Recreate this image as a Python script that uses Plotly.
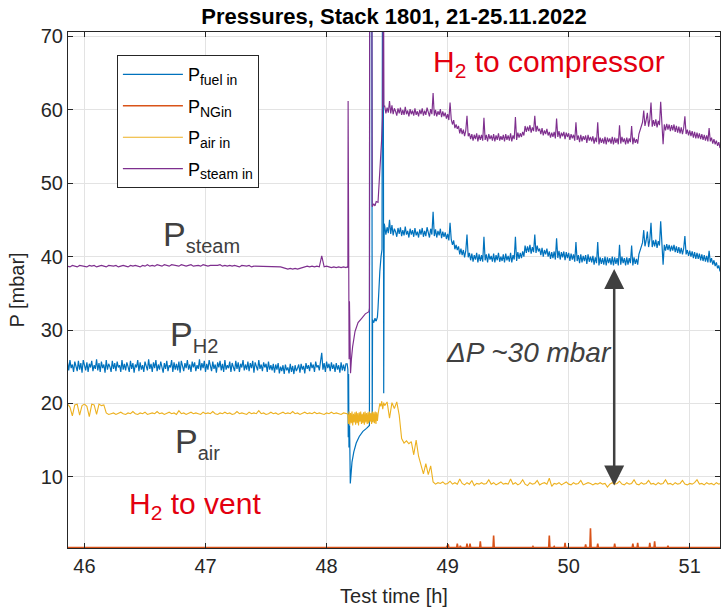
import plotly.graph_objects as go

# ---------------- time grids (h) ----------------
# coarse grid (0.02 h) for the smooth traces
time_pre = [
    45.86, 45.88, 45.90, 45.92, 45.94, 45.96, 45.98, 46.00, 46.02, 46.04,
    46.06, 46.08, 46.10, 46.12, 46.14, 46.16, 46.18, 46.20, 46.22, 46.24,
    46.26, 46.28, 46.30, 46.32, 46.34, 46.36, 46.38, 46.40, 46.42, 46.44,
    46.46, 46.48, 46.50, 46.52, 46.54, 46.56, 46.58, 46.60, 46.62, 46.64,
    46.66, 46.68, 46.70, 46.72, 46.74, 46.76, 46.78, 46.80, 46.82, 46.84,
    46.86, 46.88, 46.90, 46.92, 46.94, 46.96, 46.98, 47.00, 47.02, 47.04,
    47.06, 47.08, 47.10, 47.12, 47.14, 47.16, 47.18, 47.20, 47.22, 47.24,
    47.26, 47.28, 47.30, 47.32, 47.34, 47.36, 47.38, 47.40, 47.42, 47.44,
    47.46, 47.48, 47.50, 47.52, 47.54, 47.56, 47.58, 47.60, 47.62, 47.64,
    47.66, 47.68, 47.70, 47.72, 47.74, 47.76, 47.78, 47.80, 47.82, 47.84,
    47.86, 47.88, 47.90, 47.92, 47.94, 47.96, 47.98, 48.00, 48.02, 48.04,
    48.06, 48.08, 48.10, 48.12, 48.14, 48.16,
]
time_post = [
    48.48, 48.50, 48.52, 48.54, 48.56, 48.58, 48.60, 48.62, 48.64, 48.66,
    48.68, 48.70, 48.72, 48.74, 48.76, 48.78, 48.80, 48.82, 48.84, 48.86,
    48.88, 48.90, 48.92, 48.94, 48.96, 48.98, 49.00, 49.02, 49.04, 49.06,
    49.08, 49.10, 49.12, 49.14, 49.16, 49.18, 49.20, 49.22, 49.24, 49.26,
    49.28, 49.30, 49.32, 49.34, 49.36, 49.38, 49.40, 49.42, 49.44, 49.46,
    49.48, 49.50, 49.52, 49.54, 49.56, 49.58, 49.60, 49.62, 49.64, 49.66,
    49.68, 49.70, 49.72, 49.74, 49.76, 49.78, 49.80, 49.82, 49.84, 49.86,
    49.88, 49.90, 49.92, 49.94, 49.96, 49.98, 50.00, 50.02, 50.04, 50.06,
    50.08, 50.10, 50.12, 50.14, 50.16, 50.18, 50.20, 50.22, 50.24, 50.26,
    50.28, 50.30, 50.32, 50.34, 50.36, 50.38, 50.40, 50.42, 50.44, 50.46,
    50.48, 50.50, 50.52, 50.54, 50.56, 50.58, 50.60, 50.62, 50.64, 50.66,
    50.68, 50.70, 50.72, 50.74, 50.76, 50.78, 50.80, 50.82, 50.84, 50.86,
    50.88, 50.90, 50.92, 50.94, 50.96, 50.98, 51.00, 51.02, 51.04, 51.06,
    51.08, 51.10, 51.12, 51.14, 51.16, 51.18, 51.20, 51.22, 51.24, 51.26,
]
# fine grid (0.01 h) for the noisy traces
time_pre_fine = [
    45.86, 45.87, 45.88, 45.89, 45.90, 45.91, 45.92, 45.93, 45.94, 45.95,
    45.96, 45.97, 45.98, 45.99, 46.00, 46.01, 46.02, 46.03, 46.04, 46.05,
    46.06, 46.07, 46.08, 46.09, 46.10, 46.11, 46.12, 46.13, 46.14, 46.15,
    46.16, 46.17, 46.18, 46.19, 46.20, 46.21, 46.22, 46.23, 46.24, 46.25,
    46.26, 46.27, 46.28, 46.29, 46.30, 46.31, 46.32, 46.33, 46.34, 46.35,
    46.36, 46.37, 46.38, 46.39, 46.40, 46.41, 46.42, 46.43, 46.44, 46.45,
    46.46, 46.47, 46.48, 46.49, 46.50, 46.51, 46.52, 46.53, 46.54, 46.55,
    46.56, 46.57, 46.58, 46.59, 46.60, 46.61, 46.62, 46.63, 46.64, 46.65,
    46.66, 46.67, 46.68, 46.69, 46.70, 46.71, 46.72, 46.73, 46.74, 46.75,
    46.76, 46.77, 46.78, 46.79, 46.80, 46.81, 46.82, 46.83, 46.84, 46.85,
    46.86, 46.87, 46.88, 46.89, 46.90, 46.91, 46.92, 46.93, 46.94, 46.95,
    46.96, 46.97, 46.98, 46.99, 47.00, 47.01, 47.02, 47.03, 47.04, 47.05,
    47.06, 47.07, 47.08, 47.09, 47.10, 47.11, 47.12, 47.13, 47.14, 47.15,
    47.16, 47.17, 47.18, 47.19, 47.20, 47.21, 47.22, 47.23, 47.24, 47.25,
    47.26, 47.27, 47.28, 47.29, 47.30, 47.31, 47.32, 47.33, 47.34, 47.35,
    47.36, 47.37, 47.38, 47.39, 47.40, 47.41, 47.42, 47.43, 47.44, 47.45,
    47.46, 47.47, 47.48, 47.49, 47.50, 47.51, 47.52, 47.53, 47.54, 47.55,
    47.56, 47.57, 47.58, 47.59, 47.60, 47.61, 47.62, 47.63, 47.64, 47.65,
    47.66, 47.67, 47.68, 47.69, 47.70, 47.71, 47.72, 47.73, 47.74, 47.75,
    47.76, 47.77, 47.78, 47.79, 47.80, 47.81, 47.82, 47.83, 47.84, 47.85,
    47.86, 47.87, 47.88, 47.89, 47.90, 47.91, 47.92, 47.93, 47.94, 47.95,
    47.96, 47.97, 47.98, 47.99, 48.00, 48.01, 48.02, 48.03, 48.04, 48.05,
    48.06, 48.07, 48.08, 48.09, 48.10, 48.11, 48.12, 48.13, 48.14, 48.15,
    48.16,
]
time_post_fine = [
    48.48, 48.49, 48.50, 48.51, 48.52, 48.53, 48.54, 48.55, 48.56, 48.57,
    48.58, 48.59, 48.60, 48.61, 48.62, 48.63, 48.64, 48.65, 48.66, 48.67,
    48.68, 48.69, 48.70, 48.71, 48.72, 48.73, 48.74, 48.75, 48.76, 48.77,
    48.78, 48.79, 48.80, 48.81, 48.82, 48.83, 48.84, 48.85, 48.86, 48.87,
    48.88, 48.89, 48.90, 48.91, 48.92, 48.93, 48.94, 48.95, 48.96, 48.97,
    48.98, 48.99, 49.00, 49.01, 49.02, 49.03, 49.04, 49.05, 49.06, 49.07,
    49.08, 49.09, 49.10, 49.11, 49.12, 49.13, 49.14, 49.15, 49.16, 49.17,
    49.18, 49.19, 49.20, 49.21, 49.22, 49.23, 49.24, 49.25, 49.26, 49.27,
    49.28, 49.29, 49.30, 49.31, 49.32, 49.33, 49.34, 49.35, 49.36, 49.37,
    49.38, 49.39, 49.40, 49.41, 49.42, 49.43, 49.44, 49.45, 49.46, 49.47,
    49.48, 49.49, 49.50, 49.51, 49.52, 49.53, 49.54, 49.55, 49.56, 49.57,
    49.58, 49.59, 49.60, 49.61, 49.62, 49.63, 49.64, 49.65, 49.66, 49.67,
    49.68, 49.69, 49.70, 49.71, 49.72, 49.73, 49.74, 49.75, 49.76, 49.77,
    49.78, 49.79, 49.80, 49.81, 49.82, 49.83, 49.84, 49.85, 49.86, 49.87,
    49.88, 49.89, 49.90, 49.91, 49.92, 49.93, 49.94, 49.95, 49.96, 49.97,
    49.98, 49.99, 50.00, 50.01, 50.02, 50.03, 50.04, 50.05, 50.06, 50.07,
    50.08, 50.09, 50.10, 50.11, 50.12, 50.13, 50.14, 50.15, 50.16, 50.17,
    50.18, 50.19, 50.20, 50.21, 50.22, 50.23, 50.24, 50.25, 50.26, 50.27,
    50.28, 50.29, 50.30, 50.31, 50.32, 50.33, 50.34, 50.35, 50.36, 50.37,
    50.38, 50.39, 50.40, 50.41, 50.42, 50.43, 50.44, 50.45, 50.46, 50.47,
    50.48, 50.49, 50.50, 50.51, 50.52, 50.53, 50.54, 50.55, 50.56, 50.57,
    50.58, 50.59, 50.60, 50.61, 50.62, 50.63, 50.64, 50.65, 50.66, 50.67,
    50.68, 50.69, 50.70, 50.71, 50.72, 50.73, 50.74, 50.75, 50.76, 50.77,
    50.78, 50.79, 50.80, 50.81, 50.82, 50.83, 50.84, 50.85, 50.86, 50.87,
    50.88, 50.89, 50.90, 50.91, 50.92, 50.93, 50.94, 50.95, 50.96, 50.97,
    50.98, 50.99, 51.00, 51.01, 51.02, 51.03, 51.04, 51.05, 51.06, 51.07,
    51.08, 51.09, 51.10, 51.11, 51.12, 51.13, 51.14, 51.15, 51.16, 51.17,
    51.18, 51.19, 51.20, 51.21, 51.22, 51.23, 51.24, 51.25, 51.26,
]

# ---------------- P fuel in (mbar) ----------------
fuel_pre = [
    25.6, 24.5, 25.9, 24.8, 25.3, 24.3, 25.7, 25.0, 24.4, 25.8,
    24.6, 25.5, 24.2, 25.9, 25.1, 24.5, 25.6, 24.3, 25.4, 24.9,
    25.8, 24.4, 25.2, 24.7, 26.0, 24.5, 25.5, 24.3, 25.7, 24.8,
    25.3, 24.2, 25.9, 24.6, 25.4, 25.0, 24.3, 25.8, 24.7, 25.5,
    24.4, 25.7, 24.9, 25.2, 24.3, 25.9, 24.6, 25.4, 24.5, 25.6,
    25.0, 24.3, 25.8, 24.7, 25.5, 24.2, 25.3, 24.9, 25.9, 24.4,
    25.6, 24.6, 25.2, 24.3, 25.7, 25.0, 24.5, 26.0, 24.7, 25.4,
    24.3, 25.6, 24.8, 25.9, 24.4, 25.3, 24.6, 25.7, 25.1, 24.2,
    25.5, 24.7, 25.8, 24.4, 25.2, 24.9, 25.9, 24.3, 25.6, 24.6,
    25.4, 24.5, 25.7, 24.2, 25.8, 25.0, 24.4, 25.5, 24.8, 25.9,
    24.6, 25.3, 24.3, 25.7, 24.9, 25.6, 24.4, 25.2, 24.7, 26.0,
    24.5, 25.5, 24.8, 25.8, 24.3, 25.4, 24.6, 25.9, 25.0, 24.4,
    25.7, 24.7, 25.3, 24.2, 25.6, 24.9, 25.8, 24.5, 25.4, 24.3,
    25.9, 24.6, 25.2, 24.8, 25.7, 24.3, 25.5, 25.0, 24.4, 25.8,
    24.7, 25.6, 24.3, 25.4, 24.9, 25.9, 24.5, 25.3, 24.6, 25.7,
    24.4, 25.5, 24.8, 25.8, 24.2, 25.6, 25.0, 24.5, 25.9, 24.7,
    25.3, 24.4, 25.6, 24.9, 25.4, 24.3, 25.7, 24.6, 25.2, 24.5,
    25.4, 24.2, 25.3, 24.6, 25.5, 24.1, 25.0, 24.4, 25.2, 24.0,
    25.3, 24.5, 24.9, 24.1, 25.4, 24.3, 25.1, 24.0, 25.2, 24.4,
    24.8, 25.3, 24.2, 25.4, 24.6, 25.1, 24.1, 25.5, 24.7, 25.2,
    24.4, 25.6, 24.8, 25.3, 24.3, 25.7, 24.9, 25.2, 24.5, 25.8,
    26.9, 24.6, 25.5, 24.3, 25.7, 24.8, 25.4, 24.4, 25.6, 24.7,
    25.3, 24.3, 25.5, 24.6, 25.2, 24.2, 25.6, 24.5, 25.3, 24.4,
    25.4,
]
fuel_tr_time = [48.170, 48.176, 48.179, 48.182, 48.185, 48.190, 48.196, 48.200,
                48.210, 48.225, 48.245, 48.270, 48.300, 48.330, 48.354, 48.356,
                48.374, 48.377, 48.380, 48.390, 48.400, 48.410,
                48.420, 48.425, 48.430, 48.440, 48.450, 48.458, 48.462, 48.468,
                48.472, 48.476]
fuel_tr = [25.4, 24.6, 15.4, 24.0, 14.0, 17.0, 9.1, 10.5,
           12.0, 13.4, 14.6, 15.5, 16.2, 16.6, 17.0, 80.0,
           80.0, 17.5, 31.4, 31.0, 31.6, 31.2,
           31.8, 33.0, 35.5, 38.0, 40.0, 41.0, 80.0, 80.0,
           21.4, 44.5]
fuel_post = [
    44.2, 43.0, 44.0, 43.2, 45.0, 43.1, 44.3, 42.9, 43.8, 43.4,
    42.7, 43.9, 43.1, 44.0, 42.8, 43.6, 42.9, 44.1, 43.0, 43.5,
    42.6, 43.8, 43.0, 43.6, 42.7, 43.9, 42.9, 43.4, 42.6, 43.7,
    43.0, 43.9, 42.7, 43.5, 42.8, 44.0, 43.1, 42.6, 43.8, 43.0,
    46.1, 42.8, 43.7, 42.6, 43.5, 42.9, 43.8, 42.5, 43.4, 42.7,
    43.3, 42.4, 43.1, 42.2, 44.6, 42.3, 41.6, 42.2, 41.0, 41.6,
    40.9, 41.4, 40.3, 41.1, 40.2, 40.9, 39.9, 40.8, 43.0, 39.9,
    40.5, 39.5, 40.4, 39.3, 40.2, 39.6, 40.5, 39.2, 40.3, 39.4,
    40.2, 39.3, 42.7, 39.5, 40.3, 39.2, 40.4, 39.6, 40.1, 39.3,
    40.4, 39.2, 40.2, 39.5, 40.5, 39.3, 40.0, 39.4, 40.3, 39.2,
    40.4, 39.5, 40.1, 39.3, 40.5, 39.2, 40.2, 39.6, 42.7, 39.4,
    40.6, 39.7, 40.5, 39.8, 40.7, 40.0, 41.5, 40.5, 41.4, 40.6,
    41.6, 40.4, 41.3, 40.6, 43.0, 40.5, 41.5, 40.7, 41.1, 40.2,
    41.2, 40.0, 40.9, 40.3, 41.1, 40.0, 40.7, 39.7, 40.6, 39.8,
    40.7, 39.6, 42.5, 39.8, 40.8, 39.6, 40.6, 39.9, 40.7, 39.5,
    40.6, 39.8, 40.5, 39.4, 40.4, 39.6, 40.3, 39.3, 42.0, 39.4,
    40.2, 39.1, 40.3, 39.2, 40.1, 39.4, 40.2, 39.0, 40.3, 39.3,
    40.0, 39.2, 40.1, 38.9, 39.9, 39.1, 42.0, 38.8, 39.9, 39.0,
    39.8, 38.9, 40.0, 38.8, 39.9, 39.1, 39.8, 38.9, 40.0, 38.8,
    39.9, 39.0, 39.8, 38.8, 41.6, 38.9, 40.0, 39.1, 39.8, 38.8,
    39.9, 38.9, 39.8, 39.1, 41.5, 38.8, 39.9, 39.0, 39.7, 38.9,
    40.3, 40.9, 41.3, 41.9, 43.6, 41.4, 42.2, 43.4, 41.3, 42.3,
    44.6, 41.3, 42.2, 41.4, 42.3, 41.2, 42.1, 41.5, 44.8, 41.3,
    38.9, 41.6, 40.8, 41.7, 40.9, 41.6, 40.7, 41.5, 40.8, 41.6,
    40.6, 41.4, 40.5, 41.3, 40.4, 41.2, 40.3, 41.1, 42.8, 40.3,
    40.9, 40.1, 40.8, 40.0, 40.7, 39.8, 40.6, 39.7, 40.5, 39.7,
    40.4, 39.5, 40.3, 39.4, 40.2, 39.3, 40.1, 39.2, 40.8, 39.2,
    39.8, 38.9, 39.5, 38.7, 39.2, 38.4, 38.8, 38.0, 38.2,
]

# ---------------- P NG in (mbar) ----------------
ng_time = [45.86, 48.990, 49.005, 49.010, 49.075, 49.080, 49.085, 49.100, 49.105, 49.110,
           49.155, 49.160, 49.165, 49.180, 49.185, 49.190, 49.265, 49.270, 49.275,
           49.375, 49.380, 49.385, 49.700, 49.705, 49.710, 49.835, 49.840, 49.845,
           49.875, 49.880, 49.885, 49.965, 49.970, 49.975, 50.135, 50.140, 50.145,
           50.175, 50.180, 50.185, 50.235, 50.240, 50.245, 50.375, 50.380, 50.385,
           50.525, 50.530, 50.535, 50.565, 50.570, 50.575, 50.665, 50.670, 50.675,
           50.705, 50.710, 50.715, 50.815, 50.820, 50.825, 50.850, 50.855, 50.860, 51.26]
ng = [0.37, 0.37, 0.8, 0.37, 0.37, 0.9, 0.37, 0.37, 0.6, 0.37,
      0.37, 0.9, 0.37, 0.37, 0.9, 0.37, 0.37, 1.2, 0.37,
      0.37, 2.0, 0.37, 0.37, 0.5, 0.37, 0.37, 2.0, 0.37,
      0.37, 0.5, 0.37, 0.37, 1.0, 0.37, 0.37, 0.8, 0.37,
      0.37, 3.0, 0.37, 0.37, 0.9, 0.37, 0.37, 0.9, 0.37,
      0.37, 0.9, 0.37, 0.37, 1.0, 0.37, 0.37, 1.0, 0.37,
      0.37, 1.2, 0.37, 0.37, 0.6, 0.37, 0.37, 0.45, 0.37, 0.37]

# ---------------- P air in (mbar) ----------------
air_pre = [
    19.9, 19.5, 18.3, 19.8, 19.9, 18.4, 19.7, 19.9, 19.6, 18.2,
    19.9, 19.8, 18.5, 19.9, 19.7, 19.8, 18.7, 18.5, 18.6, 18.7,
    18.5, 18.6, 18.8, 18.6, 18.5, 18.7, 18.6, 18.9, 18.6, 18.5,
    18.7, 18.6, 18.8, 18.5, 18.6, 18.7, 18.6, 18.9, 18.6, 18.7,
    18.5, 18.6, 18.8, 18.6, 18.7, 18.5, 19.0, 18.6, 18.7, 18.5,
    18.6, 18.8, 18.6, 18.7, 18.6, 18.5, 18.8, 18.6, 18.7, 18.6,
    18.9, 18.6, 18.5, 18.7, 18.6, 18.8, 18.6, 18.7, 18.5, 18.6,
    18.9, 18.6, 18.7, 18.6, 18.5, 18.8, 18.6, 18.7, 18.6, 19.0,
    18.6, 18.7, 18.5, 18.6, 18.8, 18.6, 18.7, 18.5, 18.6, 18.8,
    18.6, 18.7, 18.6, 18.9, 18.6, 18.7, 18.5, 18.6, 18.8, 18.6,
    18.7, 18.6, 18.8, 18.6, 18.7, 18.6, 18.5, 18.7, 18.6, 18.8,
    18.6, 18.7, 18.6, 18.5, 18.7, 18.6,
]
air_tr_time = [48.170, 48.176, 48.180, 48.186, 48.192, 48.198, 48.204, 48.210,
               48.216, 48.222, 48.228, 48.234, 48.240, 48.246, 48.252, 48.258,
               48.264, 48.270, 48.276, 48.282, 48.288, 48.294, 48.300, 48.306,
               48.312, 48.318, 48.324, 48.330, 48.336, 48.342, 48.348, 48.354,
               48.360, 48.366, 48.372, 48.378, 48.384, 48.390, 48.396, 48.402,
               48.408, 48.414, 48.420, 48.426, 48.432, 48.440, 48.448, 48.456,
               48.464, 48.472]
air_tr = [18.6, 18.4, 17.2, 18.9, 17.1, 18.7, 17.3, 18.9,
          17.0, 18.6, 17.4, 18.8, 17.1, 18.9, 17.3, 18.7,
          17.0, 18.8, 17.5, 18.9, 17.2, 18.6, 17.3, 18.8,
          17.1, 18.9, 17.4, 18.7, 17.2, 18.8, 17.3, 18.9,
          17.5, 18.7, 17.2, 18.9, 17.4, 18.8, 17.3, 18.9,
          17.2, 18.8, 17.6, 18.6, 19.4, 20.0, 19.6, 20.3,
          19.2, 20.1]
air_post = [
    19.7, 20.2, 18.0, 20.1, 19.3, 20.2, 18.4, 15.2, 14.6, 14.9,
    14.5, 14.8, 13.0, 15.0, 12.8, 11.6, 10.4, 11.8, 10.3, 11.5,
    9.3, 9.0, 9.2, 9.1, 9.3, 9.0, 9.1, 9.4, 9.0, 9.2,
    9.0, 9.7, 9.1, 8.9, 9.2, 9.0, 9.5, 8.8, 9.1, 9.0,
    9.2, 9.0, 9.1, 9.6, 9.0, 9.2, 8.9, 9.1, 9.3, 9.0,
    9.1, 9.0, 9.7, 9.0, 9.2, 8.9, 9.1, 9.6, 9.0, 8.8,
    9.2, 9.0, 9.1, 9.5, 8.9, 9.1, 9.2, 9.0, 9.8, 8.7,
    9.1, 9.0, 9.2, 8.9, 9.1, 9.3, 9.0, 8.9, 9.2, 9.0,
    9.1, 9.5, 8.9, 9.0, 9.2, 9.1, 8.9, 9.1, 9.0, 9.2,
    9.0, 9.1, 8.6, 9.0, 9.2, 9.0, 9.1, 9.4, 9.0, 8.9,
    9.2, 9.0, 9.1, 9.6, 9.0, 8.9, 9.2, 9.0, 9.1, 9.5,
    9.0, 9.1, 8.9, 9.2, 9.0, 9.1, 9.6, 9.0, 9.1, 8.9,
    9.2, 9.0, 9.1, 9.5, 9.0, 8.9, 9.1, 9.0, 9.2, 9.6,
    9.0, 9.1, 8.9, 9.2, 9.0, 9.1, 8.9, 9.2, 9.0, 9.1,
]

# ---------------- P steam in (mbar) ----------------
steam_pre = [
    38.7, 38.6, 38.8, 38.7, 38.6, 38.8, 38.7, 38.7, 38.6, 38.8,
    38.7, 38.8, 38.6, 38.7, 38.8, 38.7, 38.6, 38.8, 38.7, 38.7,
    38.8, 38.6, 38.7, 38.8, 38.7, 38.6, 38.8, 38.7, 38.8, 38.7,
    38.6, 38.8, 38.7, 38.9, 38.7, 38.8, 38.7, 38.9, 38.8, 38.7,
    38.9, 38.8, 38.7, 38.9, 38.8, 38.8, 38.7, 38.9, 38.8, 38.7,
    38.8, 38.9, 38.7, 38.8, 38.8, 38.7, 38.9, 38.8, 38.7, 38.8,
    38.8, 38.7, 38.8, 38.9, 38.7, 38.8, 38.7, 38.8, 38.7, 38.8,
    38.7, 38.6, 38.8, 38.7, 38.7, 38.8, 38.6, 38.7, 38.7, 38.6,
    38.7, 38.6, 38.7, 38.6, 38.7, 38.6, 38.7, 38.6, 38.6, 38.5,
    38.4, 38.3, 38.4, 38.3, 38.4, 38.3, 38.4, 38.5, 38.6, 38.7,
    38.6, 38.7, 38.6, 38.7, 38.6, 40.1, 38.6, 38.7, 38.6, 38.5,
    38.6, 38.5, 38.6, 38.5, 38.6, 38.5,
]
steam_tr_time = [48.170, 48.176, 48.178, 48.183, 48.186, 48.189, 48.193, 48.198,
                 48.205, 48.215, 48.235, 48.260, 48.290, 48.320, 48.350, 48.354,
                 48.356, 48.374, 48.377, 48.390, 48.400, 48.410, 48.425, 48.440,
                 48.455, 48.462, 48.464, 48.470, 48.474]
steam_tr = [38.6, 38.5, 61.2, 29.6, 26.0, 33.9, 24.5, 24.1,
            26.0, 27.7, 29.8, 31.0, 31.6, 32.2, 32.5, 33.0,
            80.0, 80.0, 46.8, 47.2, 46.9, 47.5, 47.4, 51.0,
            56.0, 59.0, 80.0, 80.0, 60.5]
steam_post = [
    60.5, 59.5, 60.3, 59.6, 61.2, 59.5, 60.6, 59.4, 60.2, 59.8,
    59.2, 60.2, 59.5, 60.3, 59.3, 60.0, 59.3, 60.4, 59.4, 59.9,
    59.1, 60.1, 59.4, 59.9, 59.2, 60.2, 59.3, 59.8, 59.1, 60.0,
    59.4, 60.2, 59.2, 59.9, 59.3, 60.3, 59.5, 59.1, 60.1, 59.4,
    62.3, 59.2, 60.0, 59.1, 59.8, 59.3, 60.1, 59.0, 59.8, 59.1,
    59.6, 58.8, 59.4, 58.6, 61.0, 58.7, 58.0, 58.6, 57.5, 58.0,
    57.4, 57.8, 56.8, 57.5, 56.7, 57.3, 56.4, 57.2, 59.2, 56.4,
    56.8, 56.0, 56.7, 55.8, 56.6, 56.0, 56.8, 55.7, 56.6, 55.9,
    56.6, 55.8, 58.9, 55.9, 56.6, 55.7, 56.7, 56.0, 56.5, 55.8,
    56.7, 55.7, 56.5, 55.9, 56.8, 55.8, 56.4, 55.9, 56.6, 55.7,
    56.7, 55.9, 56.5, 55.8, 56.8, 55.7, 56.5, 56.0, 59.0, 55.9,
    56.9, 56.2, 56.8, 56.3, 57.0, 56.5, 57.8, 57.0, 57.7, 57.1,
    57.9, 56.9, 57.6, 57.1, 59.2, 57.0, 57.8, 57.1, 57.4, 56.7,
    57.5, 56.5, 57.2, 56.7, 57.4, 56.5, 57.0, 56.2, 56.9, 56.3,
    57.0, 56.1, 58.8, 56.3, 57.1, 56.1, 56.9, 56.4, 57.0, 56.0,
    56.9, 56.3, 56.8, 55.9, 56.7, 56.1, 56.6, 55.8, 58.3, 55.9,
    56.5, 55.6, 56.6, 55.7, 56.4, 55.9, 56.5, 55.5, 56.6, 55.8,
    56.3, 55.7, 56.4, 55.4, 56.2, 55.6, 58.3, 55.3, 56.2, 55.5,
    56.1, 55.4, 56.3, 55.3, 56.2, 55.6, 56.1, 55.4, 56.3, 55.3,
    56.2, 55.5, 56.1, 55.3, 57.9, 55.4, 56.3, 55.6, 56.1, 55.3,
    56.2, 55.4, 56.1, 55.6, 57.8, 55.3, 56.2, 55.5, 56.0, 55.4,
    56.7, 57.3, 57.7, 58.3, 59.9, 57.8, 58.6, 59.6, 57.7, 58.7,
    61.0, 57.7, 58.6, 57.8, 58.7, 57.6, 58.5, 57.9, 61.1, 57.7,
    55.3, 58.0, 57.2, 58.1, 57.3, 58.0, 57.1, 57.9, 57.2, 58.0,
    57.0, 57.8, 56.9, 57.7, 56.8, 57.6, 56.7, 57.5, 59.1, 56.7,
    57.3, 56.5, 57.2, 56.4, 57.1, 56.2, 57.0, 56.1, 56.9, 56.1,
    56.8, 56.0, 56.7, 55.9, 56.6, 55.8, 56.5, 55.7, 57.5, 55.7,
    56.2, 55.4, 56.0, 55.3, 55.8, 55.1, 55.6, 54.8, 55.0,
]

x_ticks = [46, 47, 48, 49, 50, 51]
y_ticks = [10, 20, 30, 40, 50, 60, 70]

C_FUEL = "#0072BD"
C_NG = "#D95319"
C_AIR = "#EDB120"
C_STEAM = "#7E2F8E"
FONT = "Liberation Sans, Arial, Helvetica, sans-serif"
AX = "#262626"
GREY = "#404040"
RED = "#E3000F"


def sub(main, low, px):
    return f"{main}<sub><span style='font-size:{px}px'>{low}</span></sub>"


fig = go.Figure()
fig.add_trace(go.Scatter(x=time_pre_fine + fuel_tr_time + time_post_fine,
                         y=fuel_pre + fuel_tr + fuel_post,
                         mode="lines", line=dict(color=C_FUEL, width=1.2),
                         name=sub("P", "fuel in", 14), legendgroup="a"))
fig.add_trace(go.Scatter(x=ng_time, y=ng, mode="lines", line=dict(color=C_NG, width=1.6),
                         name=sub("P", "NGin", 14), legendgroup="b"))
fig.add_trace(go.Scatter(x=time_pre + air_tr_time + time_post, y=air_pre + air_tr + air_post,
                         mode="lines", line=dict(color=C_AIR, width=1.1),
                         name=sub("P", "air in", 14), legendgroup="c"))
fig.add_trace(go.Scatter(x=time_pre + steam_tr_time + time_post_fine,
                         y=steam_pre + steam_tr + steam_post,
                         mode="lines", line=dict(color=C_STEAM, width=1.15),
                         name=sub("P", "steam in", 14), legendgroup="d"))

ann = [
    dict(x=46.963, y=42.8, text=sub("P", "steam", 20), font=dict(size=34, color=GREY)),
    dict(x=46.905, y=29.2, text=sub("P", "H2", 20), font=dict(size=34, color=GREY)),
    dict(x=46.930, y=14.6, text=sub("P", "air", 20), font=dict(size=34, color=GREY)),
    dict(x=49.84, y=66.3, text="H<sub>2</sub> to compressor", font=dict(size=30, color=RED)),
    dict(x=46.914, y=6.1, text="H<sub>2</sub> to vent", font=dict(size=30, color=RED)),
    dict(x=49.674, y=27.0, text="<i>ΔP ~30 mbar</i>", font=dict(size=28, color=GREY)),
]
for a in ann:
    fig.add_annotation(xref="x", yref="y", showarrow=False, font_family=FONT, **a)

fig.add_annotation(xref="x", yref="y", axref="x", ayref="y", x=50.376, y=38.3, ax=50.376, ay=8.6,
                   text="", showarrow=True, arrowhead=2, startarrowhead=2, arrowside="end+start",
                   arrowwidth=2.5, arrowsize=1.6, startarrowsize=1.6, arrowcolor=GREY,
                   standoff=0, startstandoff=0)

axis_common = dict(showline=True, linecolor=AX, linewidth=1, mirror="ticks", ticks="inside",
                   ticklen=5, tickcolor=AX, showgrid=True, gridcolor="#E3E3E3", gridwidth=1,
                   zeroline=False, automargin=False,
                   tickfont=dict(family=FONT, size=20, color=AX),
                   title_font=dict(family=FONT, size=20, color=AX))

fig.update_layout(
    width=721, height=611,
    margin=dict(l=68, r=1, t=32, b=63),
    paper_bgcolor="white", plot_bgcolor="white",
    title=dict(text="<b>Pressures, Stack 1801, 21-25.11.2022</b>", xref="paper", x=0.5,
               xanchor="center", y=1 - 16 / 611, yanchor="middle",
               font=dict(family=FONT, size=22, color="black")),
    xaxis=dict(range=[45.864, 51.25], tickvals=x_ticks, title=dict(text="Test time [h]", standoff=12),
               **axis_common),
    yaxis=dict(range=[0.3, 70.6], tickvals=y_ticks, title=dict(text="P [mbar]", standoff=10),
               **axis_common),
    legend=dict(x=0.075, y=0.955, xanchor="left", yanchor="top", bgcolor="white",
                bordercolor=AX, borderwidth=1, font=dict(family=FONT, size=18, color="black"),
                itemwidth=60, tracegroupgap=5),
    showlegend=True,
)

fig.write_html("out.html", config={"displayModeBar": False},
               post_script="document.body.style.margin='0px';")
